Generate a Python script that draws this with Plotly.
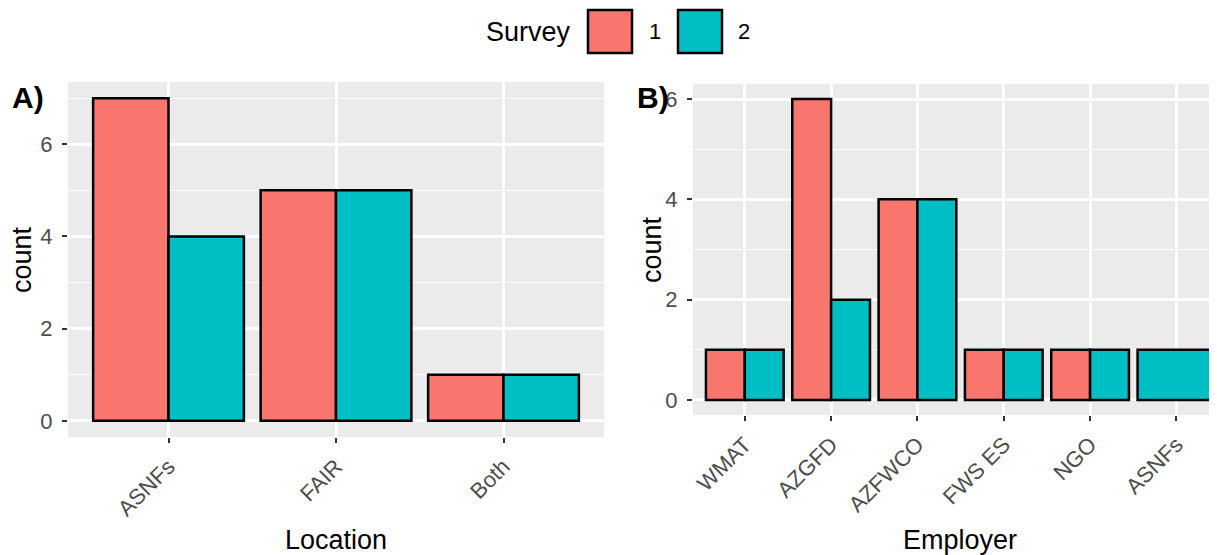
import plotly.graph_objects as go

# ---------------- data ----------------
survey_levels = ["1", "2"]
location_cats = ["ASNFs", "FAIR", "Both"]
location_s1 = [7, 5, 1]
location_s2 = [4, 5, 1]

employer_cats = ["WMAT", "AZGFD", "AZFWCO", "FWS ES", "NGO", "ASNFs"]
employer_s1 = [1, 6, 4, 1, 1, None]
employer_s2 = [1, 2, 4, 1, 1, 1]

colors = {"1": "#F8766D", "2": "#00BFC4"}

# page body has an 8px default margin, so the figure is drawn 8px in from the window edge
OFF = 8
W, H = 1217 - OFF, 555 - OFF
FONT = "Liberation Sans, Arial, sans-serif"


def px(x):
    return (x - OFF) / W


def py(y):
    return 1 - (y - OFF) / H


def dodge(series_list, total=0.9):
    """ggplot-like position_dodge: width/offset per bar depending on present groups."""
    n = len(series_list[0])
    widths = [[None] * n for _ in series_list]
    offsets = [[None] * n for _ in series_list]
    for i in range(n):
        present = [k for k, s in enumerate(series_list) if s[i] is not None]
        w = total / len(present)
        for j, k in enumerate(present):
            widths[k][i] = w
            offsets[k][i] = -total / 2 + j * w
    return widths, offsets


fig = go.Figure()


def add_panel(cats, s1, s2, xa, ya):
    widths, offsets = dodge([s1, s2])
    for lvl, vals, w, o in zip(survey_levels, [s1, s2], widths, offsets):
        xs = [c for c, v in zip(cats, vals) if v is not None]
        ys = [v for v in vals if v is not None]
        ws = [a for a, v in zip(w, vals) if v is not None]
        os_ = [a for a, v in zip(o, vals) if v is not None]
        fig.add_trace(go.Bar(
            x=xs, y=ys, width=ws, offset=os_,
            marker=dict(color=colors[lvl], line=dict(color="black", width=2.5)),
            xaxis=xa, yaxis=ya, showlegend=False, name=lvl,
        ))


add_panel(location_cats, location_s1, location_s2, "x", "y")
add_panel(employer_cats, employer_s1, employer_s2, "x2", "y2")

tickfont = dict(family=FONT, size=22, color="#4D4D4D")
common_x = dict(
    type="category", showgrid=True, gridcolor="white", gridwidth=2.5,
    ticks="outside", ticklen=5, tickwidth=2, tickcolor="#333333",
    tickangle=-45, tickfont=tickfont, showline=False, zeroline=False,
    ticklabelstandoff=2,
)
common_y = dict(
    showgrid=True, gridcolor="white", gridwidth=2.5, dtick=2, tick0=0,
    ticks="outside", ticklen=5, tickwidth=2, tickcolor="#333333",
    tickfont=tickfont, zeroline=False, showline=False, ticklabelstandoff=5,
    minor=dict(dtick=1, tick0=1, showgrid=True, gridcolor="white", gridwidth=1.3, ticks=""),
)

fig.update_layout(
    width=W, height=H,
    margin=dict(l=0, r=0, t=0, b=0),
    paper_bgcolor="white", plot_bgcolor="#EBEBEB",
    barmode="overlay",
    font=dict(family=FONT),
    xaxis=dict(common_x, domain=[px(68), px(604)], range=[-0.6, 2.6], anchor="y"),
    yaxis=dict(common_y, domain=[py(437), py(82)], range=[-0.35, 7.35], anchor="x"),
    xaxis2=dict(common_x, domain=[px(693), 1.0], range=[-0.6, 5.47], anchor="y2"),
    yaxis2=dict(common_y, domain=[py(415), py(84)], range=[-0.3, 6.3], anchor="x2"),
)

title_font = dict(family=FONT, size=27, color="black")
ann = [
    dict(text="<b>A)</b>", x=px(10), y=py(97), xanchor="left", yanchor="middle",
         font=dict(family=FONT, size=30, color="black")),
    dict(text="<b>B)</b>", x=px(635), y=py(97), xanchor="left", yanchor="middle",
         font=dict(family=FONT, size=30, color="black")),
    dict(text="count", x=px(22), y=py(260), textangle=-90, xanchor="center", yanchor="middle",
         font=title_font),
    dict(text="count", x=px(652), y=py(250), textangle=-90, xanchor="center", yanchor="middle",
         font=title_font),
    dict(text="Location", x=px(336), y=py(540), xanchor="center", yanchor="middle", font=title_font),
    dict(text="Employer", x=px(960), y=py(540), xanchor="center", yanchor="middle", font=title_font),
    dict(text="Survey", x=px(528), y=py(32), xanchor="center", yanchor="middle", font=title_font),
    dict(text="1", x=px(655), y=py(32), xanchor="center", yanchor="middle",
         font=dict(family=FONT, size=22, color="black")),
    dict(text="2", x=px(744), y=py(32), xanchor="center", yanchor="middle",
         font=dict(family=FONT, size=22, color="black")),
]
for a in ann:
    a.update(xref="paper", yref="paper", showarrow=False)
fig.update_layout(annotations=ann)

shapes = []
for lvl, (x0, x1) in zip(survey_levels, [(588, 632), (678, 722)]):
    shapes.append(dict(type="rect", xref="paper", yref="paper",
                       x0=px(x0), x1=px(x1), y0=py(53), y1=py(10),
                       fillcolor=colors[lvl], line=dict(color="black", width=2.5)))
fig.update_layout(shapes=shapes)

fig.write_html("out.html")
